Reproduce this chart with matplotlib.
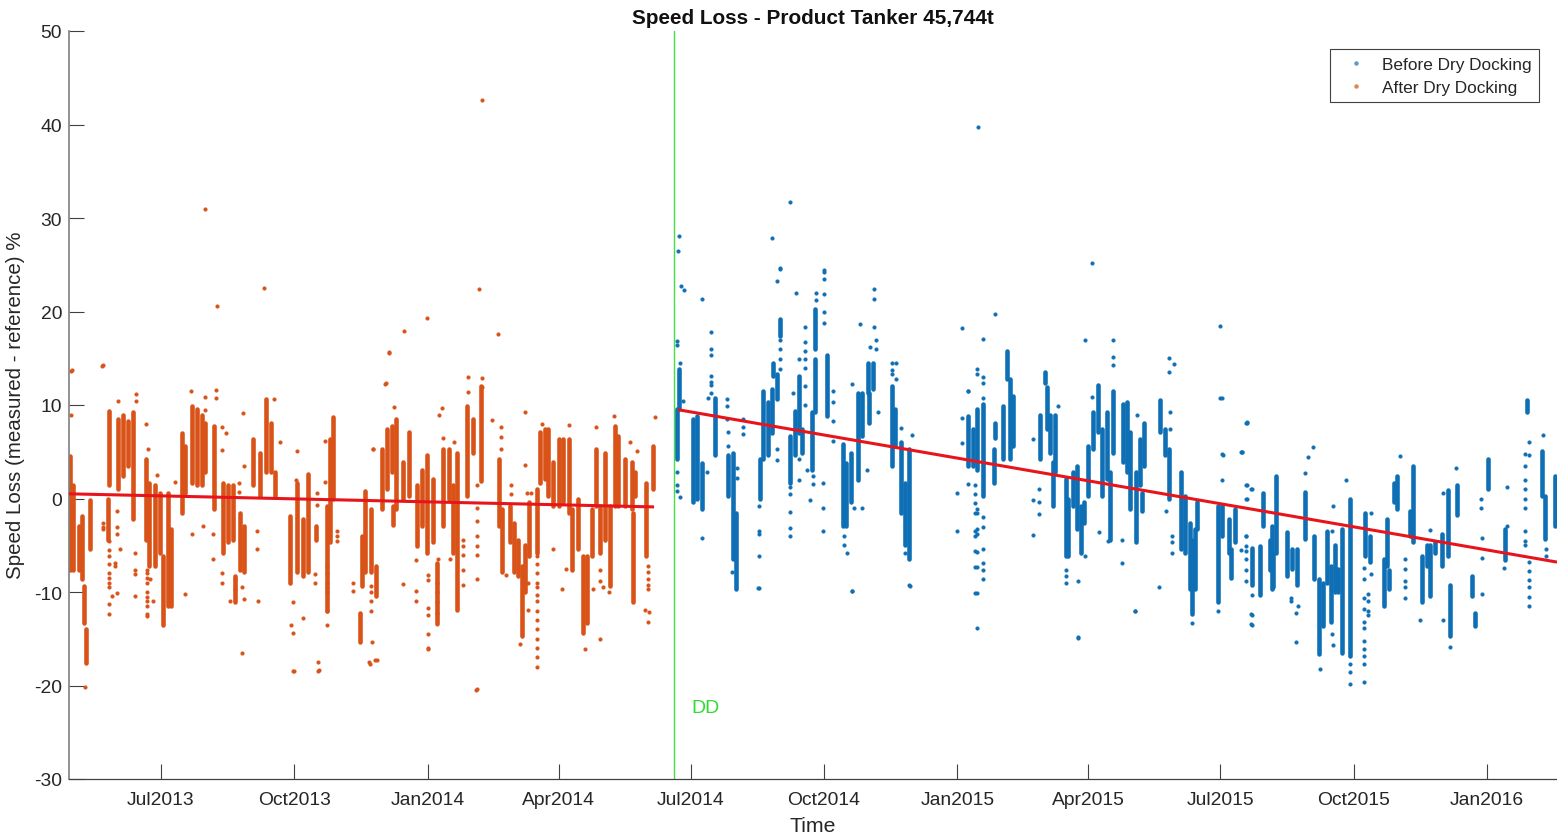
import datetime as dt
import matplotlib
matplotlib.use("Agg")
import matplotlib.pyplot as plt
from matplotlib.lines import Line2D

plt.rcParams['font.family'] = ['Liberation Sans', 'DejaVu Sans']
plt.rcParams['axes.unicode_minus'] = False

# All day values are days since 1 July 2013; all readings are speed loss in %.
START_DATE = dt.date(2013, 7, 1)
tick_dates = [dt.date(2013, 7, 1), dt.date(2013, 10, 1), dt.date(2014, 1, 1), dt.date(2014, 4, 1),
              dt.date(2014, 7, 1), dt.date(2014, 10, 1), dt.date(2015, 1, 1), dt.date(2015, 4, 1),
              dt.date(2015, 7, 1), dt.date(2015, 10, 1), dt.date(2016, 1, 1)]
tick_labels = ['Jul2013', 'Oct2013', 'Jan2014', 'Apr2014', 'Jul2014', 'Oct2014', 'Jan2015',
               'Apr2015', 'Jul2015', 'Oct2015', 'Jan2016']
y_ticks = [-30, -20, -10, 0, 10, 20, 30, 40, 50]

# Dense clusters of readings: (day, highest, lowest)
after_bands = [
    (-62.9, 4.5, -7.6), (-60.6, 1.4, -7.6), (-57, -2.9, -7.6), (-54.8, -1.9, -8.6), (-53.2, -9.4, -13.3),
    (-51.8, -14, -17.6), (-49, -0.2, -5.4), (-35.7, 9.4, 1.4), (-36.4, 0, -4.4), (-29.5, 8.5, 1),
    (-26, 8.9, 2.4), (-22.5, 8.3, 3.5), (-19, 9.2, -2.2), (-10.3, 4.2, -4.4), (-8, 1.7, -7.2),
    (-4, 1.4, -7.2), (-0.6, 0.6, -5.8), (1.7, -6.1, -13.5), (5.1, 0.6, -11.5), (7, -3.3, -11.5),
    (14.3, 7, -1.5), (16.6, 5.6, 0.6), (21.3, 9.9, 1.7), (24.7, 9.6, 1.4), (28.2, 8.9, 1.4),
    (30.5, 8.1, 2.8), (37, 7.8, -1.1), (43, 1.7, -5.8), (46.6, 1.4, -4.7), (49.6, 1.4, -4.4),
    (51.2, -8.3, -11.1), (54.7, -1.5, -7.6), (57.4, -2.9, -7.9), (63.4, 6.4, 1.4), (68.5, 4.9, 0.3),
    (72.7, 10.6, 2.8), (75.9, 8.1, 2.8), (78.9, 2.8, 0.3), (89, -1.9, -9), (93.9, 1.7, -7.9),
    (98.5, -2.2, -8.3), (102, 2.6, -7.9), (107, -2.9, -4.4), (114.6, -0.8, -12), (117, 6.4, -4.7),
    (118.8, 8.7, 0), (137.7, -12.2, -15.4), (138.8, -4, -9.4), (141, 0.8, -7.9), (145, -1.1, -7.9),
    (149, -7.2, -10.4), (152.6, 5.3, -1.1), (156, 7.4, 1), (159.5, 7.8, 2.8), (162.5, 8.5, -1.1),
    (160.6, -0.8, -2.8), (167.6, 3.9, 0), (171.5, 7.1, 0.3), (176.8, 1.4, -5.1), (180.2, 3.1, -2.9),
    (183.7, 4.6, -5.8), (188.3, 2.1, -4.7), (190.6, -6.9, -13.3), (195.2, 5.3, -2.9), (199.4, 5.3, 0),
    (202.1, 1.4, -5.8), (204.9, 4.9, -11.9), (211.4, 9.9, 0.3), (215.5, 8.5, 4.9), (221.3, 12, 1.9),
    (234, 4.2, -2.9), (235.6, -1.1, -7.9), (241.3, -0.8, -4.7), (244.1, -2.6, -7.9), (247, -4.4, -8.3),
    (249.4, -7.2, -14.7), (251.7, -5, -10), (254.7, -0.4, -6.1), (259.8, 1, -5.8), (262, 7.1, 1.7),
    (265.5, 7.4, 2.1), (267.8, 7.4, 0.3), (271.3, 3.9, -0.8), (275.4, 6.4, -0.8), (278.2, 6.4, -0.4),
    (282.1, 6.4, -1.5), (284, -1.1, -7.6), (288.6, -0.1, -5.4), (292, -6.1, -14.4), (294.8, -6.1, -13.3),
    (297.8, -1.1, -6.1), (300.8, 5.3, -0.8), (303.6, -0.8, -5.8), (307, 4.9, -4.4), (310.5, -0.8, -9.4),
    (313.9, 7.8, -0.8), (316.2, 6.7, -0.8), (320.9, 4.2, -0.8), (325.5, 3.9, -1.1), (327.8, 2.8, 0.3),
    (326.6, -1.5, -11.1), (335.4, 1.7, -6.1), (340.4, 5.6, 1),
]

before_bands = [
    (358, 13.8, 9.6), (356.6, 9.6, 4.2), (368, 8.5, -0.4), (370.5, 8.8, -0.1), (374, 3.85, -1.1),
    (383, 10.8, 4.6), (392.4, 4.6, 0.3), (395.8, 4.9, -6.5), (397.7, -1.5, -9.7), (414.3, 4.2, -0.1),
    (416.6, 11.5, 4.2), (420, 10.3, 4.6), (422.3, 11.7, 7), (423, 14.5, 13.1), (426.2, 13.3, 10.6),
    (428, 19.2, 17.4), (435, 6.7, 1.7), (438.5, 9.4, 4.6), (441.2, 13.1, 7), (443, 7.4, 4.9),
    (450, 9.2, 3.1), (452.3, 20.3, 16), (452.3, 14.9, 9.2), (460.4, 15.4, 8.8), (471.9, 5.8, -2.9),
    (474, 3.85, -2.9), (477, 4.9, -0.4), (481.8, 11.3, 2), (484.6, 11.3, 6.7), (489, 14.5, 11.3),
    (492.6, 14.5, 11.7), (489.9, 11.3, 8.1), (505.8, 12, 3.5), (507.6, 9.6, 5.6), (511.5, 6, -1.5),
    (514.5, 1.7, -5), (517.5, 5.3, -6.5), (558.3, 8.8, 3.5), (561.8, 7.4, 3.5), (564.6, 9.6, 3.1),
    (568.7, 10.1, 0.3), (576.3, 5.3, 1.7), (577, 8.1, 6.5), (582.6, 9.9, 4.2), (585.3, 15.8, 12.8),
    (587.2, 12.8, 4.2), (589.5, 11, 5.6), (607.9, 8.9, 4.2), (611.4, 13.5, 12.3), (613, 11.9, 7.4),
    (614.8, 8.9, 4.9), (618.3, 8.9, 2.8), (616.7, 3.9, -0.8), (625.9, 2.1, -6.1), (627.5, 0, -6.1),
    (631, 2.8, -0.8), (633.3, 3.5, -3.3), (636, -0.8, -5.8), (638.4, -0.4, -2.6), (641.4, 5.6, 0.3),
    (644.8, 9.2, 5.3), (647.8, 12.1, 7.1), (650.6, 7.4, 0.3), (654, 9.2, 2.1), (658.2, 11.5, 4.9),
    (656.3, 2.8, -4.4), (665.6, 10.1, 3.9), (667.9, 10.3, 2.8), (670.2, 7.1, -1.1), (674, 2.8, -4.7),
    (677, 6.4, 1.4), (680, 8.1, 3.5), (678.2, 0.6, -1.3), (690.9, 10.5, 7.1), (694.4, 7.4, 4.6),
    (697.4, 5.3, -0.1), (705.2, 2.8, -5.4), (708.2, 0.3, -5.8), (711.7, -2.6, -9.7), (712.8, -4.4, -12.4),
    (715, -3.3, -9.7), (716.7, -0.4, -3.3), (731.3, -0.8, -11.1), (733.6, -0.8, -4), (738.9, -2.2, -5.8),
    (739.8, -5.4, -8.5), (742.8, -1.1, -4.7), (754.3, -5.3, -9.2), (760, -5.1, -10.3), (762.4, 0.6, -2.9),
    (767, -4.4, -7.6), (769.3, -5.8, -9.5), (771, 2.4, -5.8), (768.3, -2.9, -9.7), (778.7, -3.6, -8.3),
    (782.1, -5.4, -7.5), (785.6, -5.4, -9.3), (790.9, 0.7, -4.3), (797.1, -4, -8.6), (800.6, -8.6, -16.6),
    (803.6, -9, -13.6), (806.3, -3.6, -9), (809.3, -7.2, -13.2), (811.6, -5, -10), (814, -7.5, -10),
    (816.7, -3.3, -16.5), (822.5, 0, -16.8), (832.8, -1.5, -6.1), (836.3, -4, -6.8), (845.5, -6.5, -11.5),
    (847.8, -2.2, -7.2), (849.4, -7.7, -9.7), (852.4, 1.7, -0.4), (854.8, 2.4, -1.1), (863.5, -1.3, -4),
    (865.8, 3.5, -4.7), (872, -6.1, -11.1), (875.5, -5, -7.2), (877.8, -5, -10.4), (881.3, -4.7, -5.8),
    (885.9, -3.8, -7.2), (890, 0.9, -6.1), (891.2, -9.3, -14.7), (896.2, 1.4, -1.8), (906.8, -8.3, -10.4),
    (908.9, -12.2, -13.6), (917.5, 4.2, 1), (929.2, -3.3, -6.6), (944.7, 10.5, 9.2), (955, 5.1, 0.3),
    (957.3, 0.3, -4.3), (964.2, 2.4, -2.9),
]

# Separate readings outside the clusters: (day, [readings on that day])
after_points = [
    (222, [42.6]), (30.4, [31]), (38.7, [20.6]), (71.2, [22.5]), (219.9, [22.4]), (233, [17.6]), (168, [17.9]),
    (184, [19.3]), (157.7, [15.6]), (-40.8, [14.2]), (-62.2, [13.6]), (154.9, [12.2]), (217.8, [-20.5]),
    (-52.6, [-20.2]), (56, [-16.5]), (91.3, [-18.4]), (108.6, [-17.5]), (109.3, [-18.3]), (143.8, [-17.5]),
    (148, [-17.3]),
    (-35.7, [-4.5, -5.5, -6.2, -7, -8, -8.5, -9, -9.5, -11.3, -12.3]),
    (-10, [-7.6, -8, -8.5, -9, -10, -10.5, -11, -11.5, -12.3, -12.6]),
    (-31.8, [-6.9, -7.2]), (-30.6, [-1.3, -3.1, -3.8, -10.1]), (-28, [-5.4]), (-34, [-10.4]),
    (-18, [-5.8, -7.6, -8.1, -10.4]), (-40.3, [-2.6, -3, -3.3, 14.3]), (-7.6, [-8.6]), (-5.7, [-11]),
    (16.6, [-10.2]), (21.3, [-3.8]), (28.9, [-2.9]), (36.2, [-3.8, -6.5]), (42, [-8, -9, 7.6, 5.2]),
    (47.8, [-11]), (51.2, [-8.6, -9.7]), (55.8, [-9.5]), (57.4, [-10.8, 3.5]), (67, [-11]), (66.7, [-3.5, -5.4]),
    (89.7, [-13.5]), (91.6, [-14.4, -11.1]), (92.3, [-18.4]), (98.5, [-12.8]), (108.8, [-18.5]),
    (106.5, [-8.1, -9]), (115, [-7.2, -8, -9, -9.5, -10, -12, -13.5]), (133, [-9, -9.9]), (146, [-15.4]),
    (144.6, [-17.7]), (149.2, [-17.3]), (145, [-9.4, -10, -11, -12]), (-61.5, [13.7]), (-62.4, [8.9]),
    (-29.7, [10.4]), (-17.2, [11.2, 10.4]), (-10.3, [8]), (-8.7, [5.3]), (-3, [2.5]), (9.7, [1.8]), (21, [11.5]),
    (30.5, [10.9, 9.5]), (37.9, [11.6, 10.8]), (45, [7]), (57, [9.1]), (54, [1.7, 0.7]), (78.2, [10.6]),
    (82.3, [6]), (93.9, [5.1]), (93.4, [2]), (113.5, [6.2, 1.8]), (107.7, [0.6, -0.7]), (146.4, [5.3]),
    (121.5, [-3.5, -4, -4.5]), (157.9, [15.7]), (155.3, [12.4]), (161, [9.8]), (146.6, [5.3]), (167.6, [-9.1]),
    (176.3, [-6.6, -9.9, -11]), (184.8, [-8.2, -8.7, -11.7, -12.5, -14.5, -16, -16.1]), (191.8, [-6.5]),
    (190.6, [-9, -10, -11.1, -12.2, -13.4]), (194, [9.7]), (192, [8.9]), (195.2, [6.5]), (202.6, [6]),
    (199.8, [-6.5]), (209, [-4.4, -5.1, -6, -7.6, -9.2]), (218.3, [1.4, -1, -2.4, -4, -5.1, -6, -8.6, -20.4]),
    (212, [13, 11.4]), (221.7, [12.9, 11.9]), (228.6, [8.4]), (235.3, [7.7, 6.6, 5.3]), (252, [9.3, 3.6]),
    (241.8, [1.4, 0.5]), (253, [0.6]), (256, [0.6]), (238.8, [-8.2]), (254, [-9, -11.9]), (248.2, [-15.6]),
    (259.8, [-6.1, -7, -8, -9, -9.5, -10.3, -11, -12, -13, -14, -15, -16, -17, -18]), (263.5, [8]),
    (282.4, [7.9]), (270.8, [-5.4]), (277, [-9.7]), (280, [-7.5]), (303.6, [-15, -7.6, -8.8]), (293.2, [-16.1]),
    (300.6, [7.6]), (313.2, [8.8]), (324.3, [6]), (328.9, [5.1]), (341.6, [8.7]), (337, [-13.2, -7.2, -7.9, -8.6, -9.2, -9.7]),
    (337.7, [-12.1]), (334.7, [-11.9]), (306, [-9.5]), (310, [-10]), (298.5, [-9.7]),
]

before_points = [
    (565, [39.7]), (435, [31.7]), (422.5, [27.9]), (428, [24.6, 24.5, 17, 16, 14.9, 13.8]), (358.2, [28.1]),
    (357.5, [26.5]), (359.6, [22.7]), (361.7, [22.3]), (374.1, [21.3]), (458.5, [24.2]), (643.8, [25.2]),
    (732.4, [18.4]), (553.9, [18.2]), (576.8, [19.7]), (658.4, [17]), (732.6, [10.7]), (751, [8.2]),
    (747.6, [5]), (734.4, [4.7]), (634.2, [-14.9]), (564.3, [-13.8]), (477.9, [-9.9]), (673.6, [-12]),
    (518, [-9.4]), (412.9, [-9.6]),
    (356.6, [16.8, 16.4, 2.8, 1.4, 0.8]), (358.9, [14.5, 0.2]), (361.2, [10.4]), (373.9, [-4.2]),
    (380.1, [17.8, 16, 15.4, 13.1, 12.5, 12.1, 11.3]), (378.5, [10.8]), (391.2, [10.6, 9.9, 8.5]),
    (391.9, [7.1, 5.6]), (402.7, [8.5, 7.6, 6.9]), (398.1, [3.3, 2.2]), (413.8, [-0.8, -3.5, -3.8, -6.2, -9.6]),
    (377.4, [2.8]), (394.9, [-7.9]), (426.2, [23.3, 5.3, 4.1]), (439.2, [22]), (441.2, [14.9]),
    (445.6, [18.3, 16.7, 15.8, 14.9, 14, 12, 10]), (437.3, [11.3]), (435, [1.2, 0.5, -1.4, -3.2, -4]),
    (441.5, [4.2, 2]), (446.5, [3.1]), (448.8, [-0.2]), (451.1, [2.4, 1.5]), (452.8, [22, 21.2]),
    (458.7, [24.4, 23.5, 21.9, 19.9, 18.8]), (457.6, [1.7, -1, -3.5]), (465, [11.5, 10.3, 8.3, 6.2]),
    (477.7, [-9.9, 12.2]), (472.6, [-4, -5]), (474.2, [-5.8]), (484.6, [-1]), (479.5, [-1]), (488.5, [3]),
    (483.4, [18.7]), (493.3, [22.4, 21.3, 18.3]), (490.3, [16.2]), (494.5, [16.9, 16]), (496, [9.2]),
    (505.3, [14.5, 13.7, 13.3]), (508.3, [14.5, 12.8]), (511.8, [7.5]), (519.1, [6.8]), (517.5, [-9.3]),
    (514.5, [-5.8]), (550.3, [0.6, -3.5]), (553.7, [8.6, 5.9]), (558.3, [11.5, 1.6]), (564.6, [13.8, 13.3]),
    (563, [1.4, 0.5, -0.5, -1.5, -3.5, -4, -5.6, -7.3, -10.1]), (568.7, [17.1, 13, 12.4, 10.8]), (558.4, [11.5]),
    (603.3, [6.4, -0.2, -3.9]), (607.5, [1, -0.4, -1.7]), (568.3, [-2, -3, -5.4, -6.9, -7.6, -8.6]),
    (564.1, [-1.1, -1.5, -3.3, -3.8, -5.7, -7.3, -10.1]), (625.9, [-7.6, -8.3, -9]), (634.4, [-8.8, -14.8]),
    (639.3, [-6.1]), (620.6, [9.9]), (643.6, [10.9]), (639, [17]), (658.2, [15.1, 14.3]), (649, [-3.6]),
    (655.2, [-4.5]), (664.4, [-4.4, -6.9]), (675.2, [8.9]), (673.6, [-12]), (690.2, [-9.5]), (697.4, [15, 13.5]),
    (700.6, [14.4]), (697.8, [9.2, 7.4]), (695, [-1.3]), (699, [-4, -4.7, -5.8]), (713.3, [-13.3]),
    (730.8, [-12]), (733.6, [10.8, 4.8, 2]), (747.4, [5]), (750.8, [8.1, 1.4, -0.1]), (754.3, [1, -10.3, -12.5, -13.5]),
    (750.2, [-4, -5.1, -6.5, -7.6, -8.8]), (746.9, [-5.5]), (750.6, [8.1, 1.4, -0.1]), (747.1, [5]),
    (753.8, [1]), (750.3, [-4, -5.6]), (754, [-12.4, -13.4]), (796.9, [5.5]), (793, [4.4]), (791.4, [2.7]),
    (819.5, [2]), (810.5, [-0.8, -15.7]), (801.3, [-18.2]), (784.9, [-15.4]), (781.7, [-10.6, -11]),
    (786.3, [-11.5]), (784.7, [-12.2]), (806.3, [-3.5]), (809.8, [-3.5, -14.5]),
    (831.7, [-7.4, -8.6, -10.6, -11.8, -13.2, -13.8, -15.2, -16.1, -16.8, -17.7, -19.6]),
    (834.5, [-10.2, -11, -12, -12.5]), (822.5, [-17.7, -18.6, -19.8]), (837, [-1.5, -8.1]), (857, [4.5]),
    (860, [-6.5, -7.5, -8.8, -9.5, -10.6]), (877.8, [-3.4]), (886.3, [0.6, -13]), (895.8, [3.3]), (891.6, [-15.9]),
    (871, [-13]), (913.5, [-4.2, -6.4, -10.2]), (912.8, [-0.1, -1]), (930.8, [1.2, -2.9]), (929, [-7.4]),
    (943, [4.8, 3.5, 2, 1, 0, -1, -3.5, -4.5, -5]), (945.8, [6, 4.6, -6.8, -7.8, -8.7, -9.5, -10.5, -11.5]),
    (955.7, [6.8]), (958, [-5.4, -6.1]),
]

after_trend_day = [-63.6, 341]
after_trend_val = [0.5, -0.9]
before_trend_day = [357.5, 965.4]
before_trend_val = [9.5, -6.8]
dry_dock_day = 354.8
x_limits_day = [-63.6, 965.4]
y_limits = [-30, 50]

# The day readings above came from a slightly coarser reading of the time axis.
DAY_SCALE = 0.9967

BLUE = '#0f6fb5'
ORANGE = '#d95319'
RED = '#e8141c'
GREEN = '#44e044'
TEXT = '#262626'
W, H = 1557, 837


def to_num(day):
    return matplotlib.dates.date2num(START_DATE) + day * DAY_SCALE


fig = plt.figure(figsize=(W / 100, H / 100), dpi=100)
ax = fig.add_axes([69 / W, 1 - 780 / H, (1557 - 69) / W, (780 - 32) / H])


def draw_series(bands, points, color):
    ax.vlines([to_num(b[0]) for b in bands], [b[2] for b in bands], [b[1] for b in bands],
              colors=color, linewidth=3.3, capstyle='round', zorder=2)
    xs, ys = [], []
    for day, vals in points:
        for v in vals:
            xs.append(to_num(day))
            ys.append(v)
    ax.plot(xs, ys, ls='none', marker='o', ms=2.7, mfc=color, mec=color, mew=0.2, zorder=2)


draw_series(after_bands, after_points, ORANGE)
draw_series(before_bands, before_points, BLUE)

ax.plot([to_num(d) for d in after_trend_day], after_trend_val, color=RED, lw=2.2, zorder=3, solid_capstyle='butt')
ax.plot([to_num(d) for d in before_trend_day], before_trend_val, color=RED, lw=2.2, zorder=3, solid_capstyle='butt')
ax.axvline(to_num(dry_dock_day), color=GREEN, lw=1, zorder=1)
ax.text(to_num(dry_dock_day + 12), -22.4, 'DD', color='#2fdc2f', fontsize=14, ha='left', va='center')

ax.set_xlim(to_num(x_limits_day[0]), to_num(x_limits_day[1]))
ax.set_ylim(*y_limits)
ax.set_yticks(y_ticks)
ax.set_xticks([matplotlib.dates.date2num(d) for d in tick_dates])
ax.set_xticklabels(tick_labels)
ax.tick_params(axis='both', direction='in', length=11, width=0.8, color='#404040',
               labelcolor=TEXT, labelsize=13.9)
ax.tick_params(axis='x', pad=9)
ax.tick_params(axis='y', pad=5)
for s in ('top', 'right'):
    ax.spines[s].set_visible(False)
ax.spines['left'].set_color('#7f7f7f')
ax.spines['left'].set_linewidth(1.2)
ax.spines['bottom'].set_color('#404040')
ax.spines['bottom'].set_linewidth(0.9)

fig.text(813 / W, 1 - 18 / H, 'Speed Loss - Product Tanker 45,744t', fontsize=14.95, fontweight='bold',
         color='#111111', ha='center', va='center')
fig.text(813 / W, 1 - 827 / H, 'Time', fontsize=15.3, color=TEXT, ha='center', va='center')
fig.text(16 / W, 1 - 405 / H, 'Speed Loss (measured - reference) %', fontsize=14.8, color=TEXT,
         rotation=90, ha='center', va='center')

handles = [Line2D([], [], ls='none', marker='o', ms=2.2, color='#5a9cc8'),
           Line2D([], [], ls='none', marker='o', ms=2.2, color='#e0864f')]
leg = ax.legend(handles, ['Before Dry Docking', 'After Dry Docking'],
                loc='upper right', bbox_to_anchor=(1539 / W, 1 - 50 / H), bbox_transform=fig.transFigure,
                frameon=True, fancybox=False, framealpha=1, edgecolor='#404040', fontsize=12.4,
                borderaxespad=0, labelspacing=0.45, handletextpad=0.44, borderpad=0.45, handlelength=2.1,
                labelcolor=TEXT)
leg.get_frame().set_linewidth(0.8)

fig.savefig('out.png', dpi=100)
